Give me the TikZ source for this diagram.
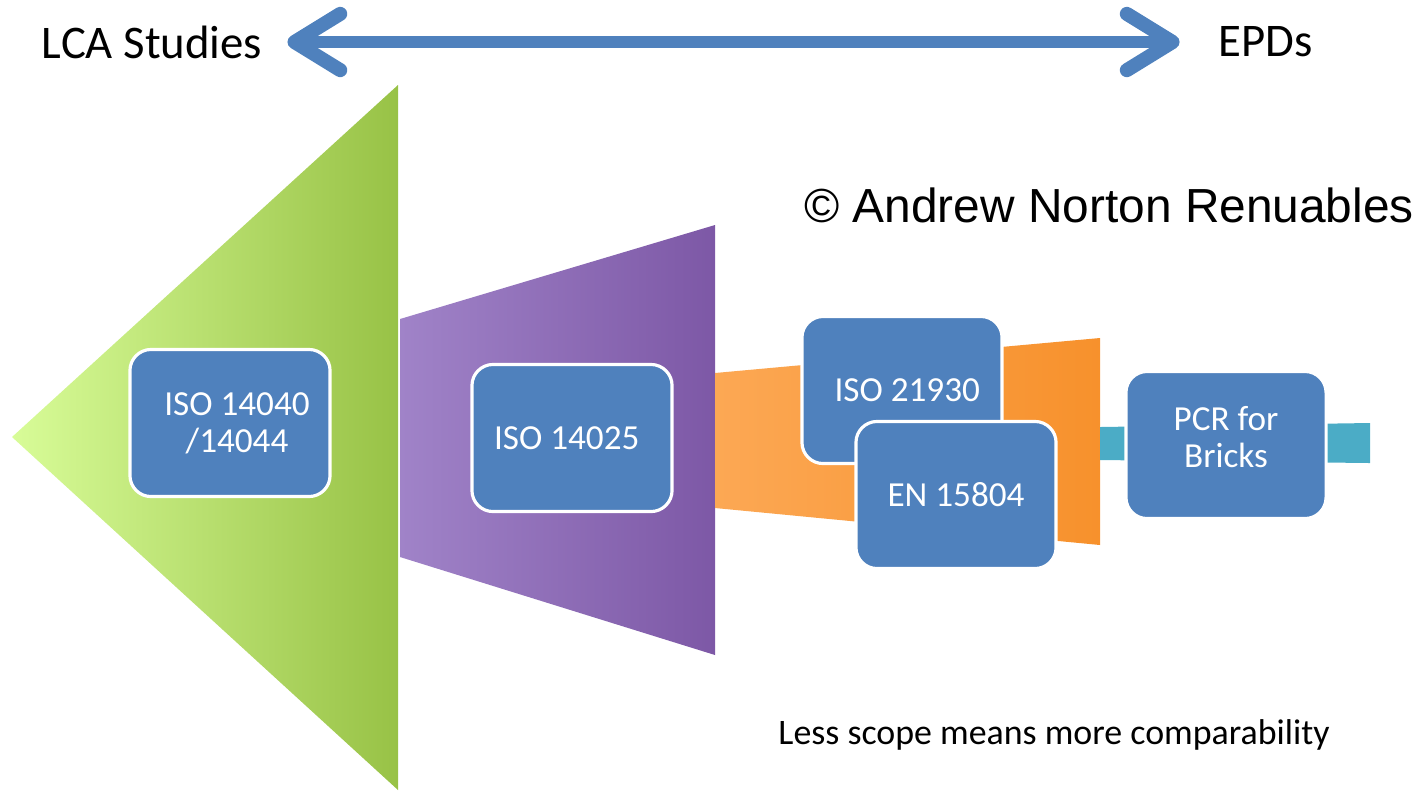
\documentclass[tikz,border=0pt]{standalone}
\usepackage{fontspec}
\setmainfont{Carlito}
\newfontfamily\arialfont{Liberation Sans}
\usepackage{tikz}
\usetikzlibrary{arrows.meta}
\definecolor{boxblue}{RGB}{79, 129, 189}
\definecolor{greenlight}{RGB}{216, 252, 152}
\definecolor{greendark}{RGB}{152, 194, 70}
\definecolor{purplelight}{RGB}{160, 131, 200}
\definecolor{purpledark}{RGB}{125, 88, 166}
\definecolor{orangelight}{RGB}{252, 168, 84}
\definecolor{orangedark}{RGB}{247, 145, 44}
\definecolor{cyanbar}{RGB}{75, 172, 198}

\begin{document}
\begin{tikzpicture}[x=0.01cm, y=-0.01cm,
  stdbox/.style={draw=white, line width=0.9pt, fill=boxblue, rounded corners=6pt,
    minimum width=2cm, minimum height=1.47cm, text=white, align=center,
    font=\fontsize{10}{10.5}\selectfont},
  endlabel/.style={font=\fontsize{13.3}{15}\selectfont, inner sep=0pt}]
  \useasboundingbox (0, 0) rectangle (1425, 793);

  % Scope arrow
  \node [endlabel] (lca) at (152, 42) {LCA Studies};
  \node [endlabel] (epd) at (1266, 42) {EPDs};
  \draw [boxblue, line width=3.4pt, line cap=round,
    {Straight Barb[round, length=13pt, width=16pt, line width=4pt]}-{Straight Barb[round, length=13pt, width=16pt, line width=4pt]},
    shorten <=7pt, shorten >=11pt] (lca.east) -- (epd.west);

  \node [font=\arialfont\fontsize{13.6}{16}\selectfont, inner sep=0pt] (copy) at (1109, 205) {\textcopyright\ Andrew Norton Renuables};

  % Funnel
  \shade [left color=greenlight, right color=greendark] (12, 437) -- (398, 85) -- (398, 790) -- cycle;
  \shade [left color=purplelight, right color=purpledark] (400, 319) -- (715, 225) -- (715, 655) -- (400, 557) -- cycle;
  \shade [left color=orangelight, right color=orangedark] (715, 373) -- (1100, 338) -- (1100, 545) -- (715, 508) -- cycle;
  \fill [cyanbar] (1100, 427) -- (1370, 423) -- (1370, 463) -- (1100, 460) -- cycle;

  % Standards
  \node [stdbox] (iso14040) at (230, 423) {\hspace*{4pt}ISO 14040\\\hspace*{4pt}/14044};
  \node [stdbox] (iso14025) at (572, 438) {ISO 14025\hspace*{3pt}};
  \node [stdbox] (iso21930) at (902, 390) {\hspace*{3pt}ISO 21930};
  \node [stdbox] (en15804) at (956, 495) {EN 15804};
  \node [stdbox] (pcr) at (1226, 445) {PCR for\\Bricks\\[-6pt]\mbox{}};

  \node [font=\fontsize{10.2}{12}\selectfont, inner sep=0pt] (note) at (1054, 735) {Less scope means more comparability};
\end{tikzpicture}
\end{document}
